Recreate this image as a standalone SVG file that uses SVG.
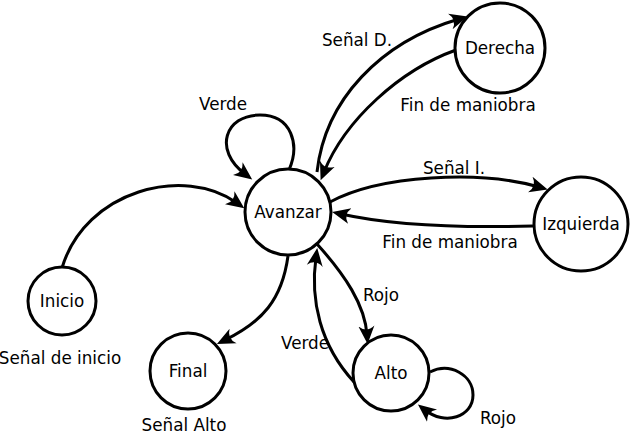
<svg xmlns="http://www.w3.org/2000/svg" width="632" height="436" viewBox="0 0 632 436">
<defs>
<marker id="arr" viewBox="0 -9 19 18" refX="9" refY="0" markerWidth="19" markerHeight="18" markerUnits="userSpaceOnUse" orient="auto">
<path d="M18,0 L0,-8 Q7,0 0,8 Z" fill="#000"/>
</marker>
<style>
.node circle{fill:#fff;stroke:#000;stroke-width:3}
text{font-family:"DejaVu Sans","Liberation Sans",sans-serif;font-size:16.8px;fill:#000}
.node text{text-anchor:middle}
.lbl{text-anchor:middle}
#edges path{fill:none;stroke:#000;stroke-width:3}
.a{marker-end:url(#arr)}
</style>
</defs>
<rect width="632" height="436" fill="#fff"/>
<g id="edges">
<path class="a" d="M62,268 C85,190 185,165 237,203"/>
<path class="a" d="M289,170 C300,145 292,115 260,115 C225,115 213,150 245,174"/>
<path class="a" d="M317,172 C325,100 380,42 459,19"/>
<path class="a" d="M456,50 C400,70 345,120 324,172"/>
<path class="a" d="M330,202 C380,175 480,170 539,187"/>
<path class="a" d="M533,226 C460,228 390,225 341,214"/>
<path class="a" d="M288,256 C282,300 262,322 225,340"/>
<path class="a" d="M317,244 C345,275 365,305 367,335"/>
<path class="a" d="M354,382 C320,345 310,300 316,257"/>
<path class="a" d="M430,372 C450,362 473,375 473,395 C473,417 445,426 425,410"/>
</g>
<g id="avanzar" class="node"><circle cx="288" cy="212" r="43"/><text x="288" y="218">Avanzar</text></g>
<g id="derecha" class="node"><circle cx="500" cy="48" r="45"/><text x="500" y="54">Derecha</text></g>
<g id="izquierda" class="node"><circle cx="581" cy="224" r="47"/><text x="581" y="230">Izquierda</text></g>
<g id="inicio" class="node"><circle cx="62" cy="301" r="34"/><text x="62" y="307">Inicio</text></g>
<g id="final" class="node"><circle cx="188" cy="371" r="38"/><text x="188" y="377">Final</text></g>
<g id="alto" class="node"><circle cx="391" cy="373" r="38"/><text x="391" y="379">Alto</text></g>
<g id="labels">
<text class="lbl" x="357" y="46">Señal D.</text>
<text class="lbl" x="223" y="110">Verde</text>
<text class="lbl" x="468" y="111">Fin de maniobra</text>
<text class="lbl" x="454" y="174">Señal I.</text>
<text class="lbl" x="450" y="248">Fin de maniobra</text>
<text class="lbl" x="381" y="301">Rojo</text>
<text class="lbl" x="305" y="349">Verde</text>
<text class="lbl" x="498" y="424">Rojo</text>
<text class="lbl" x="60" y="364">Señal de inicio</text>
<text class="lbl" x="184" y="431">Señal Alto</text>
</g>
</svg>
